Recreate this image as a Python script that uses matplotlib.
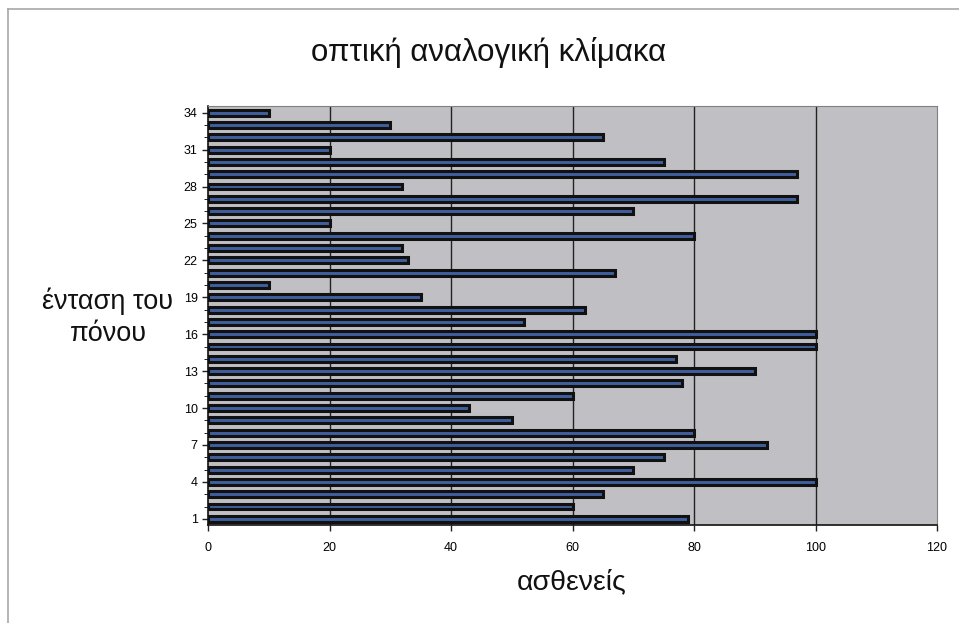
import matplotlib.pyplot as plt
from matplotlib.lines import Line2D

plt.rcParams['font.family'] = ['Liberation Sans', 'DejaVu Sans']

# Patients 1..34 and their pain rating on the visual analogue scale
patients = list(range(1, 35))
scores = [79, 60, 65, 100, 70, 75, 92, 80, 50, 43,
          60, 78, 90, 77, 100, 100, 52, 62, 35, 10,
          67, 33, 32, 80, 20, 70, 97, 32, 97, 75,
          20, 65, 30, 10]

tick_labels = [1, 4, 7, 10, 13, 16, 19, 22, 25, 28, 31, 34]
x_ticks = [0, 20, 40, 60, 80, 100, 120]

fig = plt.figure(figsize=(9.59, 6.23), dpi=100)
ax = fig.add_axes([208 / 959, 1 - 525 / 623, (937 - 208) / 959, (525 - 106.5) / 623])
ax.set_facecolor('#c0c0c4')

ax.barh(patients, scores, height=0.48, color='#3f5f9c', edgecolor='#111111',
        linewidth=2.2, zorder=3)

ax.set_xlim(0, 120)
ax.set_ylim(0.5, 34.5)
ax.set_xticks(x_ticks)
ax.set_yticks(tick_labels)
ax.set_yticks(patients, minor=True)
ax.tick_params(axis='both', labelsize=9, length=4, width=1, color='#222222')
ax.tick_params(axis='y', which='minor', length=3)
ax.tick_params(axis='x', pad=8)

for v in x_ticks[1:-1]:
    ax.axvline(v, color='#222222', linewidth=1, zorder=2)

ax.spines['left'].set_color('#111111')
ax.spines['bottom'].set_color('#111111')
ax.spines['left'].set_linewidth(1.2)
ax.spines['bottom'].set_linewidth(1.2)
ax.spines['top'].set_color('#808080')
ax.spines['right'].set_color('#808080')

fig.text(489 / 959, 1 - 52 / 623, 'οπτική αναλογική κλίμακα', ha='center', va='center',
         fontsize=22.5, color='#111111')
fig.text(108 / 959, 1 - 317 / 623, 'ένταση του\nπόνου', ha='center', va='center',
         fontsize=19.5, color='#111111', linespacing=1.3)
fig.text(572 / 959, 1 - 582 / 623, 'ασθενείς', ha='center', va='center',
         fontsize=20.5, color='#111111')

# thin frame around the chart area
fig.add_artist(Line2D([8 / 959, 8 / 959], [0, 1 - 9 / 623], color='#a8a8a8', linewidth=1.2))
fig.add_artist(Line2D([8 / 959, 1], [1 - 9 / 623, 1 - 9 / 623], color='#a8a8a8', linewidth=1.2))

fig.savefig('out.png', dpi=100)
